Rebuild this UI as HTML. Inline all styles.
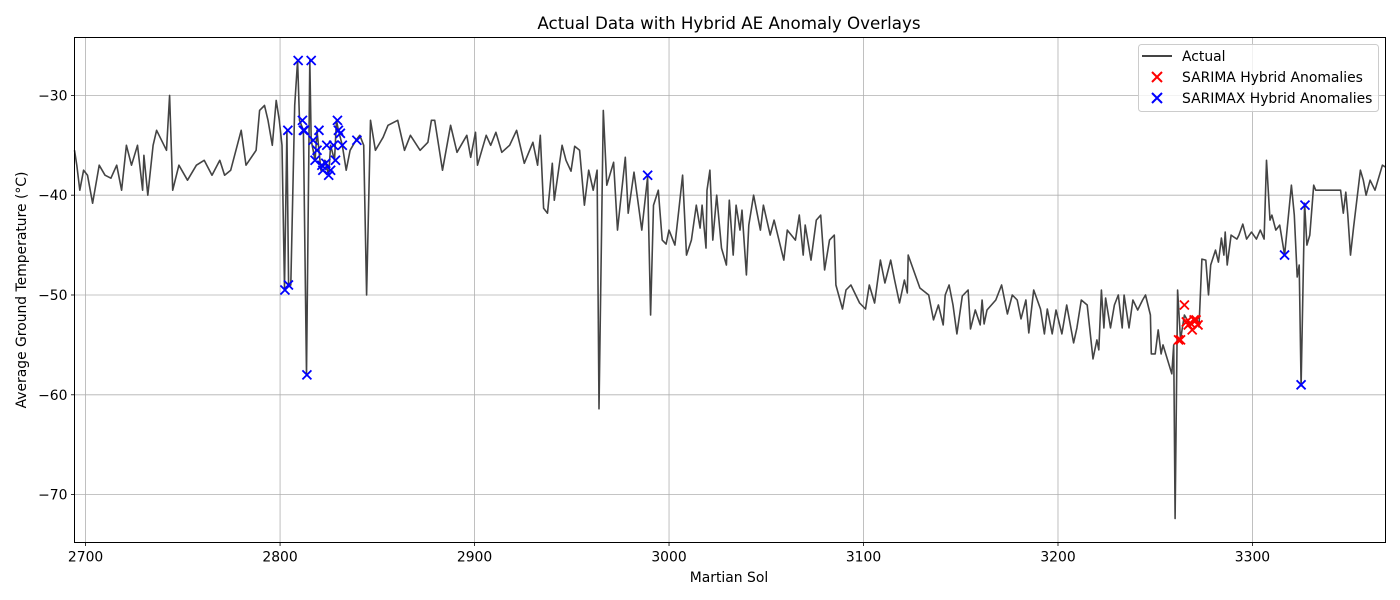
<!DOCTYPE html>
<html><head><meta charset="utf-8"><style>
html,body{margin:0;padding:0;background:#fff;}
svg{display:block;font-family:"DejaVu Sans","Liberation Sans",sans-serif;}
</style></head><body>
<svg id="chart" width="1400" height="600" viewBox="0 0 1400 600" xmlns="http://www.w3.org/2000/svg">
<rect width="1400" height="600" fill="#fff"/>
<text x="729" y="29" text-anchor="middle" font-size="16.7">Actual Data with Hybrid AE Anomaly Overlays</text>
<g id="grid"></g>
<g id="series"></g>
<rect x="74.5" y="37.5" width="1311" height="505" fill="none" stroke="#000" stroke-width="1"/>
<g id="ticks"></g>
<text x="729" y="582" text-anchor="middle" font-size="13.9">Martian Sol</text>
<text transform="translate(26,290) rotate(-90)" text-anchor="middle" font-size="13.9">Average Ground Temperature (°C)</text>
<g>
<rect x="1138.5" y="44.5" width="240" height="67" rx="3" fill="#fff" fill-opacity="0.8" stroke="#ccc"/>
<line x1="1142" y1="56" x2="1172" y2="56" stroke="#444" stroke-width="2"/>
<text x="1182" y="61" font-size="13.9">Actual</text>
<path d="M1152 72 l10 10 M1162 72 l-10 10" stroke="red" stroke-width="2"/>
<text x="1182" y="82" font-size="13.9">SARIMA Hybrid Anomalies</text>
<path d="M1152 93 l10 10 M1162 93 l-10 10" stroke="blue" stroke-width="2"/>
<text x="1182" y="103" font-size="13.9">SARIMAX Hybrid Anomalies</text>
</g>
</svg>
<script>
const xTicks=[2700,2800,2900,3000,3100,3200,3300];
const yTicks=[-30,-40,-50,-60,-70];
const actualSol=[2694.3,2695.5,2697,2699,2701,2703.6,2707,2710,2713,2716,2718.5,2721,2723.6,2726.7,2729.3,2730,2732,2734.7,2736.5,2741.6,2743.2,2744.8,2748,2752.4,2757,2761,2765,2769,2771.5,2774.6,2780,2782.5,2787.7,2789.5,2792,2793.8,2796,2798,2799.6,2801,2802.3,2803.5,2804.4,2805.5,2807.5,2809,2810,2812,2813.6,2815.3,2816,2818,2819,2821,2823,2825,2826,2828,2829,2830,2832,2834,2836,2839,2841,2843,2844.5,2846.5,2849,2853,2855.5,2860.5,2864,2867,2872,2876,2877.8,2879.5,2883.5,2887.7,2891,2896,2898,2900.5,2901.5,2906,2908.3,2911,2914,2918,2921.6,2925.6,2930,2932.4,2933.8,2935.5,2937.5,2940,2941,2945,2947,2949.6,2951.5,2954,2956.5,2958.7,2961,2963,2964,2966.2,2968,2971.5,2973.5,2977.5,2979,2982,2986,2989,2990.5,2992,2994.5,2996.5,2998.5,3000,3003,3005,3007,3009,3011.5,3014,3016,3017,3019,3019.5,3021,3022.5,3024.5,3027,3029.5,3031,3033,3034.5,3036.5,3037.5,3039.8,3041,3043.5,3047,3048.5,3052,3054,3059,3060.8,3065,3067,3069,3070,3073,3075.7,3078,3080,3082.5,3085,3085.8,3089.2,3091,3093.5,3098,3101,3103,3105.7,3108.7,3111,3114,3116,3118.5,3121,3122.5,3123,3129,3133.5,3136,3138.5,3141,3142,3144,3146,3148,3150.8,3153.8,3155,3157.5,3160,3161,3162,3163.5,3168,3171,3174,3176.5,3179,3181,3183.5,3185,3187.5,3191,3193,3194.5,3197,3199,3202,3204.5,3208,3209.7,3212,3215,3218,3220,3221,3222.3,3223.6,3224.5,3227,3229,3231,3233,3234,3236.5,3238.5,3241,3243.5,3245,3247.5,3248,3250,3251.5,3253,3254,3258.5,3259.5,3260.2,3261.5,3263,3265,3268,3271.5,3272.5,3274,3276,3277.4,3278.5,3281,3282.5,3284,3285.3,3286,3287,3289,3292,3293,3295,3297,3299.5,3302,3304,3306,3307.2,3309,3310,3312,3314,3316.5,3320,3321.5,3323,3324,3325,3326.8,3328,3329.5,3331.5,3332.5,3345.3,3346.7,3348,3349,3350.4,3352,3355.5,3357,3358.4,3360.5,3363,3366.8,3368.5];
const actualTemp=[-35.5,-37,-39.5,-37.5,-38,-40.8,-37,-38,-38.3,-37,-39.5,-35,-37,-35,-39.5,-36,-40,-35,-33.5,-35.5,-30,-39.5,-37,-38.5,-37,-36.5,-38,-36.5,-38,-37.5,-33.5,-37,-35.5,-31.5,-31,-32.5,-35,-30.5,-32.5,-35,-49.3,-33.5,-49.1,-49,-31,-26.5,-32.5,-33.5,-58,-26.5,-34.5,-36.5,-33.5,-37.5,-36.5,-38,-35,-36.5,-32.5,-33.5,-35,-37.5,-35.5,-34.5,-34,-35,-50,-32.5,-35.5,-34.2,-33,-32.5,-35.5,-34,-35.5,-34.7,-32.5,-32.5,-37.5,-33,-35.7,-34,-36.2,-33.7,-37,-34,-35,-33.7,-35.7,-35,-33.5,-36.8,-34.7,-37,-34,-41.3,-41.8,-36.8,-40.5,-35,-36.5,-37.6,-35.1,-35.5,-41,-37.5,-39.5,-37.5,-61.4,-31.5,-39,-36.7,-43.5,-36.2,-41.8,-37.7,-43.5,-38.2,-52,-41,-39.5,-44.5,-44.9,-43.5,-45,-41.5,-38,-46,-44.5,-41,-43.3,-41,-45.3,-39.5,-37.5,-44.5,-40,-45.3,-47,-40.5,-46,-41,-43.5,-41.5,-48,-43,-40,-43.5,-41,-44,-42.5,-46.5,-43.5,-44.5,-42,-46,-43,-46.5,-42.5,-42,-47.5,-44.5,-44,-49,-51.4,-49.5,-49,-50.8,-51.4,-49,-50.8,-46.5,-48.8,-46.5,-48.5,-50.8,-48.5,-49.8,-46,-49.3,-50,-52.5,-51,-53,-50,-49,-51,-53.9,-50.1,-49.5,-53.4,-51.5,-53,-50.5,-52.9,-51.5,-50.5,-49,-51.9,-50,-50.5,-52.4,-50.5,-53.8,-49.5,-51.4,-53.9,-51.4,-53.9,-51.5,-53.9,-51,-54.8,-53.3,-50.5,-51,-56.4,-54.5,-55.5,-49.5,-53.3,-50.3,-53.3,-51,-50,-53.3,-50,-53.3,-50.5,-51.5,-50.5,-50,-52,-55.9,-55.9,-53.5,-55.9,-55,-57.9,-55,-72.4,-49.5,-54.5,-52,-53,-52.5,-53.2,-46.4,-46.5,-50,-47,-45.5,-46.7,-44.3,-46,-43.7,-47,-44,-44.4,-44,-42.9,-44.4,-43.7,-44.4,-43.5,-44.4,-36.5,-42.5,-42,-43.5,-43,-46,-39,-42,-48.2,-47,-59.1,-40.8,-45,-44,-39,-39.5,-39.5,-41.8,-39.7,-42,-46,-43.2,-37.5,-38.5,-40,-38.5,-39.5,-37,-37.2];
const sarimaSol=[3262,3263,3265,3266,3267,3268,3269,3270,3271,3272];
const sarimaTemp=[-54.5,-54.5,-51,-52.7,-53,-52.8,-53.5,-52.5,-52.5,-53];
const sarimaxSol=[2802.5,2804.3,2804,2809.3,2816,2811.5,2812,2812.5,2813.8,2817,2818,2819,2820,2821.5,2822,2823.5,2824,2825,2826,2827.5,2828.5,2829.5,2830,2831,2832,2839.5,2989,3316.5,3325,3327];
const sarimaxTemp=[-49.5,-49,-33.5,-26.5,-26.5,-32.5,-33.5,-33.5,-58,-34.5,-36.5,-35.5,-33.5,-37,-37.5,-36.8,-35,-38,-37.5,-35,-36.5,-32.5,-33.5,-33.8,-35,-34.5,-38,-46,-59,-41];

const NS='http://www.w3.org/2000/svg';
const X0=74.5,X1=1385.5,Y0=37.5,Y1=542.5;
const xMin=2694.3,xMax=3368.4,yMin=-74.8,yMax=-24.2;
const sx=v=>X0+(v-xMin)/(xMax-xMin)*(X1-X0);
const sy=v=>Y1-(v-yMin)/(yMax-yMin)*(Y1-Y0);
function mk(tag,attrs,parent){const e=document.createElementNS(NS,tag);for(const k in attrs)e.setAttribute(k,attrs[k]);parent.appendChild(e);return e;}
const grid=document.getElementById('grid'),ticks=document.getElementById('ticks'),series=document.getElementById('series');
xTicks.forEach(t=>{const x=sx(t);
 const g=mk('line',{x1:x,x2:x,y1:Y0,y2:Y1,stroke:'#b0b0b0','stroke-width':0.8},grid);
 
 
 mk('line',{x1:x,x2:x,y1:Y1,y2:Y1+3.5,stroke:'#000','stroke-width':0.8},ticks);
 const l=mk('text',{x:x,y:Y1+19,'text-anchor':'middle','font-size':13.9},ticks);l.textContent=t;
 
 
});
yTicks.forEach(t=>{const y=sy(t);
 const g=mk('line',{x1:X0,x2:X1,y1:y,y2:y,stroke:'#b0b0b0','stroke-width':0.8},grid);
 
 
 mk('line',{x1:X0-3.5,x2:X0,y1:y,y2:y,stroke:'#000','stroke-width':0.8},ticks);
 const l=mk('text',{x:X0-7,y:y+5,'text-anchor':'end','font-size':13.9},ticks);l.textContent='\u2212'+Math.abs(t);
 
 
});
const d=actualSol.map((s,i)=>(i?'L':'M')+sx(s).toFixed(1)+' '+sy(actualTemp[i]).toFixed(1)).join(' ');
const line=mk('path',{d:d,fill:'none',stroke:'#444','stroke-width':1.6,'stroke-linejoin':'round','clip-path':'none'},series);


function marks(sols,temps,color,name){sols.forEach((s,i)=>{const x=sx(s),y=sy(temps[i]);
 const p=mk('path',{d:`M${x-4.5} ${y-4.5} L${x+4.5} ${y+4.5} M${x+4.5} ${y-4.5} L${x-4.5} ${y+4.5}`,stroke:color,'stroke-width':1.8},series);
 
 
});}
marks(sarimaSol,sarimaTemp,'red','sarima-anomaly');
marks(sarimaxSol,sarimaxTemp,'blue','sarimax-anomaly');
</script>
</body></html>
